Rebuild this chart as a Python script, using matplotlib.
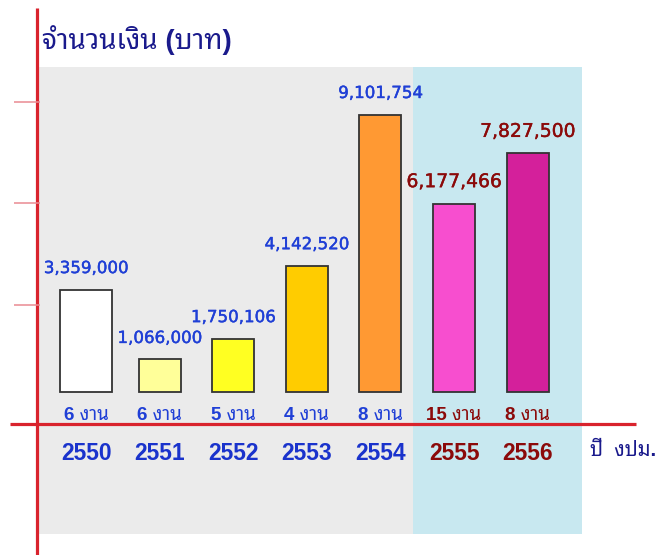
import matplotlib
matplotlib.use('Agg')
import matplotlib.pyplot as plt
from matplotlib.lines import Line2D
import matplotlib.patheffects as pe

# budget per fiscal year (Thai years) and number of projects per year
years = ['2550', '2551', '2552', '2553', '2554', '2555', '2556']
amounts = [3359000, 1066000, 1750106, 4142520, 9101754, 6177466, 7827500]
projects = [6, 6, 5, 4, 8, 15, 8]

title_text = 'จำนวนเงิน (บาท)'
unit_word = 'งาน'
xlabel_text = 'ปี  งปม.'

bar_colors = ['#ffffff', '#ffff99', '#ffff22', '#ffcc00', '#ff9933', '#f74ecf', '#d4209b']
bar_widths = [0.7, 0.57, 0.57, 0.57, 0.57, 0.57, 0.57]
blue = '#1f3fd6'
darkred = '#8b0a0a'
navy = '#1a1a8c'
red = '#d9232d'
text_colors = [blue] * 5 + [darkred] * 2

thai = ['Liberation Sans', 'Noto Sans Thai Looped', 'DejaVu Sans']

W, H = 660, 555
fig = plt.figure(figsize=(6.6, 5.55), dpi=100)

# plotting area = grey panel (px 38..582 wide, 67..534 tall)
ax = fig.add_axes([38 / W, 1 - 534 / H, 544 / W, 467 / H])
ax.set_facecolor('#ebebeb')
for s in ax.spines.values():
    s.set_visible(False)
ax.set_xticks([])
ax.set_yticks([])

x = list(range(len(years)))
ax.set_xlim(-0.653, 6.738)
ax.set_ylim(-4.66e6, 10.66e6)

# light blue panel behind the last two years
ax.axvspan(4.44, 6.738, color='#c8e8f0', zorder=0, lw=0)

ax.bar(x, amounts, width=bar_widths, color=bar_colors,
       edgecolor='#333333', linewidth=1.3, zorder=2)

for i, v in enumerate(amounts):
    big = i >= 5
    t = ax.annotate(f'{v:,}', (x[i], v), xytext=(0, 9), textcoords='offset points',
                    ha='center', va='bottom', color=text_colors[i],
                    fontsize=13.5 if big else 12, family='DejaVu Sans', zorder=3)
    t.set_path_effects([pe.withStroke(linewidth=0.3, foreground=text_colors[i])])
    # number of projects under each bar
    ax.annotate(f'{projects[i]} {unit_word}', (x[i], 0), xytext=(0, -20),
                textcoords='offset points', ha='center', va='baseline',
                color=text_colors[i], fontsize=13.5, fontweight='bold',
                family=thai, zorder=3)
    # year labels
    ax.annotate(years[i], (x[i], 0), xytext=(0, -49), textcoords='offset points',
                ha='center', va='baseline', color=text_colors[i] if i >= 5 else '#1a33cc',
                fontsize=16.5, fontweight='bold', family='Liberation Sans', zorder=3)

# red axis cross and small ticks (drawn in figure pixels)
def px_line(x0, y0, x1, y1, color, lw):
    fig.add_artist(Line2D([x0 / W, x1 / W], [1 - y0 / H, 1 - y1 / H],
                          color=color, lw=lw, solid_capstyle='butt'))

px_line(36.5, 8, 36.5, 555, red, 2.3)
px_line(10, 424, 636, 424, red, 2.3)
for ty in (102, 203, 305):
    px_line(14, ty, 40, ty, '#ea8a92', 1.1)

fig.text(42 / W, 1 - 40 / H, title_text, color=navy, fontsize=20, fontweight='bold',
         family=thai, ha='left', va='center')
fig.text(590 / W, 1 - 451 / H, xlabel_text, color=navy, fontsize=14.5, fontweight='bold',
         family=thai, ha='left', va='center')

fig.savefig('out.png', dpi=100)
